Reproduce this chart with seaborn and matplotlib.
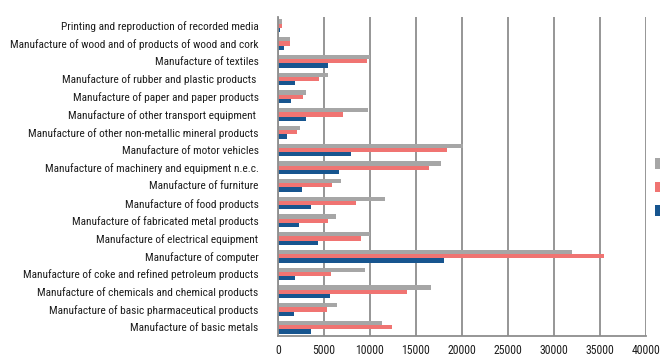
import matplotlib
matplotlib.use("Agg")
import matplotlib.pyplot as plt
from matplotlib import font_manager
import seaborn as sns
import pandas as pd

categories = [
    "Printing and reproduction of recorded media",
    "Manufacture of wood and of products of wood and cork",
    "Manufacture of textiles",
    "Manufacture of rubber and plastic products ",
    "Manufacture of paper and paper products",
    "Manufacture of other transport equipment ",
    "Manufacture of other non-metallic mineral products",
    "Manufacture of motor vehicles",
    "Manufacture of machinery and equipment n.e.c.",
    "Manufacture of furniture",
    "Manufacture of food products",
    "Manufacture of fabricated metal products",
    "Manufacture of electrical equipment",
    "Manufacture of computer",
    "Manufacture of coke and refined petroleum products",
    "Manufacture of chemicals and chemical products",
    "Manufacture of basic pharmaceutical products",
    "Manufacture of basic metals",
]

series_names = ["Series 3", "Series 2", "Series 1"]
gray_values = [400, 1340, 9970, 5400, 3080, 9750, 2360, 20120, 17730,
               6890, 11680, 6310, 9970, 31980, 9460, 16610, 6420, 11280]
red_values = [400, 1340, 9720, 4500, 2680, 7030, 2070, 18420, 16430,
              5870, 8450, 5400, 9030, 35500, 5800, 14070, 5290, 12360]
blue_values = [200, 650, 5475, 1850, 1450, 3080, 940, 7900, 6640,
               2650, 3550, 2250, 4390, 18090, 1850, 5690, 1740, 3590]
x_ticks = [0, 5000, 10000, 15000, 20000, 25000, 30000, 35000, 40000]

colors = ["#A6A6A6", "#F07472", "#17558F"]

rows = []
for name, vals in zip(series_names, [gray_values, red_values, blue_values]):
    for c, v in zip(categories, vals):
        rows.append({"category": c, "series": name, "value": v})
df = pd.DataFrame(rows)

sns.set_theme(style="white")
family = "DejaVu Sans"
for cand in ["Liberation Sans Narrow", "Roboto Condensed", "Liberation Sans"]:
    try:
        font_manager.findfont(cand, fallback_to_default=False)
        family = cand
        break
    except Exception:
        pass
plt.rcParams["font.family"] = [family, "DejaVu Sans"]

fig = plt.figure(figsize=(6.6, 3.58), dpi=100)
ax = fig.add_axes([278 / 660, 1 - 336 / 358, (645.7 - 278) / 660, (336 - 17) / 358])

sns.barplot(data=df, y="category", x="value", hue="series", order=categories,
            hue_order=series_names, palette=colors, orient="h", width=0.72,
            saturation=1, linewidth=0, ax=ax, legend=True)

ax.set_xlim(0, 40000)
ax.set_xticks(x_ticks)
ax.set_xticklabels([str(t) for t in x_ticks])
ax.set_xlabel("")
ax.set_ylabel("")
ax.xaxis.grid(True, color="#8E8E8E", linewidth=1.3)
ax.set_axisbelow(True)
for s in ["top", "right"]:
    ax.spines[s].set_visible(False)
for s in ["left", "bottom"]:
    ax.spines[s].set_color("#8E8E8E")
    ax.spines[s].set_linewidth(1.3)
ax.tick_params(axis="y", length=0, pad=14, labelsize=8.2, labelcolor="#1E1E1E")
ax.tick_params(axis="x", length=0, pad=6, labelsize=8.5, labelcolor="#1E1E1E")

handles, _ = ax.get_legend_handles_labels()
leg = ax.legend(handles, ["", "", ""], loc="upper left",
                bbox_to_anchor=(655 / 660, 1 - 158 / 358),
                bbox_transform=fig.transFigure, frameon=False, fontsize=9,
                handlelength=0.9, handleheight=0.9, labelspacing=0.84,
                borderpad=0, borderaxespad=0, handletextpad=0.5)

fig.savefig("out.png", dpi=100)
